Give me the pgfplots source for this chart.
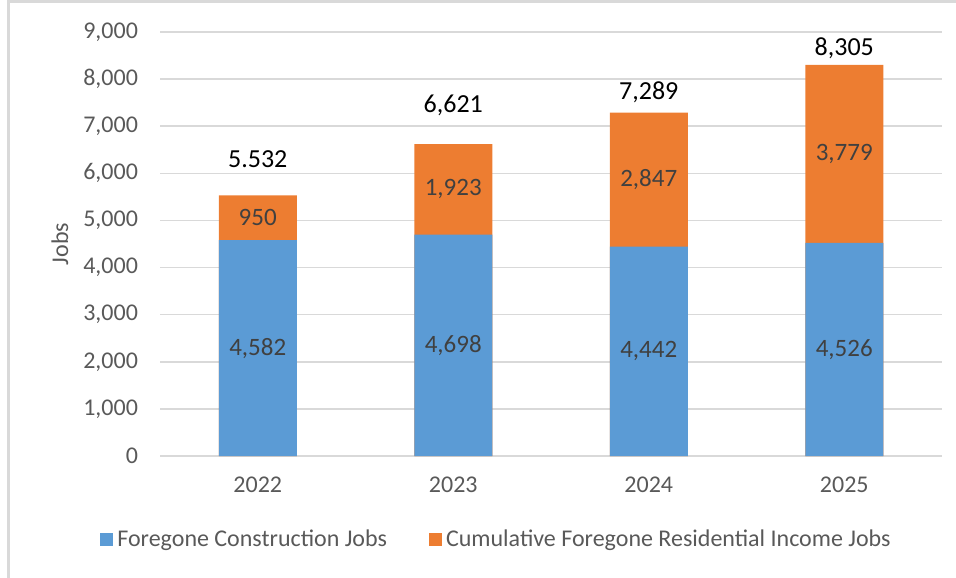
\documentclass[border=0pt]{standalone}
\usepackage{fontspec}
\setmainfont{Carlito}
\usepackage{pgfplots}
\pgfplotsset{compat=1.18}
\usepackage{pgfplotstable}

\definecolor{barblue}{HTML}{5B9BD5}
\definecolor{barorange}{HTML}{ED7D31}
\definecolor{ticktext}{HTML}{595959}
\definecolor{gridgrey}{HTML}{D9D9D9}
\definecolor{labeltext}{HTML}{404040}

% year, construction jobs, residential income jobs, total label and its height
\pgfplotstableread{
x year constr resid totlabel laby
0 2022 4582 950  5.532 6304
1 2023 4698 1923 6,621 7450
2 2024 4442 2847 7,289 7726
3 2025 4526 3779 8,305 8660
}\jobsdata

\begin{document}
\begin{tikzpicture}
\useasboundingbox (0,0) rectangle (478pt,-288.5pt);
\draw[gridgrey, line width=1.25pt] (4.25pt,-290pt) -- (4.25pt,-0.75pt) -- (480pt,-0.75pt);
\begin{axis}[
  at={(80pt,-228pt)}, anchor=south west,
  scale only axis, width=391pt, height=212pt,
  xmin=-0.5, xmax=3.5, ymin=0, ymax=9000,
  xtick={0,1,2,3}, xticklabels={2022,2023,2024,2025},
  ytick={0,1000,...,9000},
  major tick length=0pt,
  ymajorgrids, grid style={gridgrey, line width=0.75pt},
  separate axis lines,
  axis x line*=bottom, axis y line*=left,
  x axis line style={gridgrey, line width=0.75pt, -},
  y axis line style={draw=none},
  /pgf/number format/.cd, 1000 sep={,}, assume math mode=true,
  /pgfplots/.cd,
  tick label style={font=\fontsize{12}{14}\selectfont, text=ticktext},
  yticklabel style={xshift=-7.5pt},
  xticklabel style={yshift=-7pt},
  ylabel={Jobs},
  ylabel style={at={(axis description cs:-0.128,0.5)}, anchor=center,
    font=\fontsize{12}{14}\selectfont, text=ticktext},
  legend columns=2,
  legend image code/.code={\fill[#1] (0pt,-3.25pt) rectangle (6.5pt,3.25pt);},
  legend style={at={(axis description cs:0.4316,-0.198)}, anchor=center,
    draw=none, fill=none, font=\fontsize{12}{14}\selectfont, text=ticktext,
    /tikz/every even column/.append style={column sep=19pt}},
]
\addlegendimage{fill=barblue, draw=none}
\addlegendentry{Foregone Construction Jobs}
\addlegendimage{fill=barorange, draw=none}
\addlegendentry{Cumulative Foregone Residential Income Jobs}

% orange bars reach the total, blue bars are drawn over their lower part
\addplot[ybar, bar width=39pt, fill=barorange, draw=none, forget plot]
  table[x=x, y expr=\thisrow{constr}+\thisrow{resid}] {\jobsdata};
\addplot[ybar, bar width=39pt, fill=barblue, draw=none, forget plot]
  table[x=x, y=constr] {\jobsdata};

% segment labels
\addplot[draw=none, mark=none, forget plot, nodes near coords,
  point meta=explicit,
  every node near coord/.style={anchor=center, text=labeltext,
    font=\fontsize{12.5}{14}\selectfont}]
  table[x=x, y expr=\thisrow{constr}/2, meta=constr] {\jobsdata};
\addplot[draw=none, mark=none, forget plot, nodes near coords,
  point meta=explicit,
  every node near coord/.style={anchor=center, text=labeltext,
    font=\fontsize{12.5}{14}\selectfont}]
  table[x=x, y expr=\thisrow{constr}+\thisrow{resid}/2, meta=resid] {\jobsdata};
% totals
\addplot[draw=none, mark=none, forget plot, nodes near coords,
  point meta=explicit symbolic,
  every node near coord/.style={anchor=center, text=black,
    font=\fontsize{13}{15}\selectfont}]
  table[x=x, y=laby, meta=totlabel] {\jobsdata};
\end{axis}
\end{tikzpicture}
\end{document}
